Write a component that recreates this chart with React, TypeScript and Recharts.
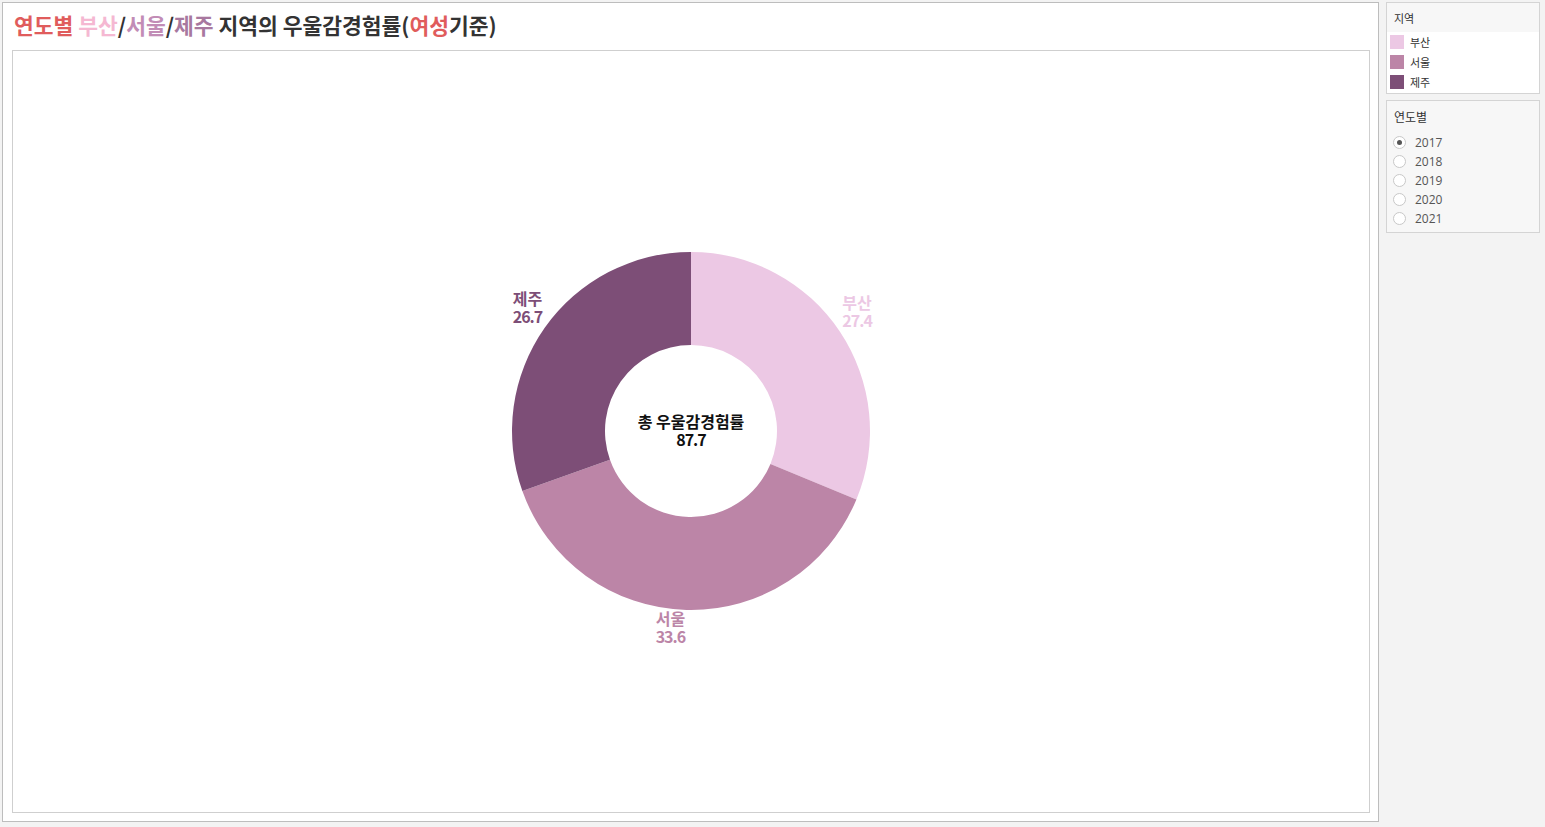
import { Cell, Pie, PieChart } from "recharts";

const regions = ["부산", "서울", "제주"];
const rates = [27.4, 33.6, 26.7];
const years = ["2017", "2018", "2019", "2020", "2021"];
const selectedYear = "2017";

const sliceColors = ["#ecc8e4", "#bc85a7", "#7d4e77"];
const titleColors = ["#f5b8d2", "#c28cb6", "#a8789f"];

const data = regions.map((name, i) => ({ name, value: rates[i] }));
const total = rates.reduce((a, b) => a + b, 0);

const RAD = Math.PI / 180;
const labelFont = "'Noto Sans CJK KR', sans-serif";

function renderLabel(props: any) {
  const { cx, cy, midAngle, outerRadius, name, value, index } = props;
  const r = outerRadius + 3;
  const cos = Math.cos(-midAngle * RAD);
  const sin = Math.sin(-midAngle * RAD);
  const x = cx + r * cos;
  const y = cy + r * sin;
  const anchor = cos > 0.3 ? "start" : cos < -0.3 ? "end" : "middle";
  const dx = anchor === "start" ? 0 : anchor === "end" ? 0 : -16;
  const top = sin < 0 ? y - 21 : y + 12;
  return (
    <text
      x={x + dx}
      y={top}
      textAnchor={anchor}
      fill={sliceColors[index]}
      fontFamily={labelFont}
      fontWeight={700}
      fontSize={16}
    >
      <tspan x={x + dx}>{name}</tspan>
      <tspan x={x + dx} dy={18} letterSpacing={-1}>
        {Number(value).toFixed(1)}
      </tspan>
    </text>
  );
}

export default function App() {
  return (
    <div
      style={{
        position: "fixed",
        left: 0,
        top: 0,
        width: 1545,
        height: 827,
        background: "#f3f3f3",
        fontFamily: "'Noto Sans CJK KR', sans-serif",
      }}
    >
      <div
        style={{
          position: "absolute",
          left: 2,
          top: 2,
          width: 1375,
          height: 818,
          background: "#fff",
          border: "1px solid #bdbdbd",
        }}
      />
      <div
        style={{
          position: "absolute",
          left: 14,
          top: 11,
          fontSize: 21.5,
          fontWeight: 700,
          color: "#333",
          whiteSpace: "nowrap",
          lineHeight: "28px",
        }}
      >
        <span style={{ color: "#e05c5c" }}>연도별</span>{" "}
        <span style={{ color: titleColors[0] }}>{regions[0]}</span>/
        <span style={{ color: titleColors[1] }}>{regions[1]}</span>/
        <span style={{ color: titleColors[2] }}>{regions[2]}</span> 지역의 우울감경험률(
        <span style={{ color: "#e05c5c" }}>여성</span>기준)
      </div>
      <div
        style={{
          position: "absolute",
          left: 12,
          top: 50,
          width: 1356,
          height: 761,
          border: "1px solid #cfcfcf",
          background: "#fff",
        }}
      >
        <PieChart width={1356} height={761} margin={{ top: 0, right: 0, bottom: 0, left: 0 }}>
          <Pie
            data={data}
            dataKey="value"
            nameKey="name"
            cx={678}
            cy={380}
            innerRadius={86}
            outerRadius={179}
            startAngle={90}
            endAngle={-270}
            stroke="none"
            label={renderLabel}
            labelLine={false}
            isAnimationActive={false}
          >
            {data.map((d, i) => (
              <Cell key={d.name} fill={sliceColors[i]} />
            ))}
          </Pie>
          <text
            x={678}
            y={377}
            textAnchor="middle"
            fontFamily={labelFont}
            fontWeight={700}
            fontSize={16}
            fill="#111"
          >
            <tspan x={678}>총 우울감경험률</tspan>
            <tspan x={678} dy={18} letterSpacing={-1}>
              {total.toFixed(1)}
            </tspan>
          </text>
        </PieChart>
      </div>

      <div
        style={{
          position: "absolute",
          left: 1386,
          top: 2,
          width: 152,
          height: 90,
          border: "1px solid #d4d4d4",
          background: "#fff",
          fontSize: 11,
          color: "#333",
        }}
      >
        <div style={{ background: "#f7f7f7", height: 29, padding: "7px 0 0 7px", boxSizing: "border-box" }}>지역</div>
        {regions.map((r, i) => (
          <div key={r} style={{ display: "flex", alignItems: "center", height: 20, paddingLeft: 3 }}>
            <div style={{ width: 14, height: 14, background: sliceColors[i], marginRight: 6 }} />
            <span>{r}</span>
          </div>
        ))}
      </div>

      <div
        style={{
          position: "absolute",
          left: 1386,
          top: 100,
          width: 152,
          height: 131,
          border: "1px solid #d4d4d4",
          background: "#f7f7f7",
          fontSize: 12,
          color: "#555",
        }}
      >
        <div style={{ padding: "7px 0 0 7px", height: 32, boxSizing: "border-box", color: "#333" }}>연도별</div>
        {years.map((y) => (
          <div key={y} style={{ display: "flex", alignItems: "center", height: 19, paddingLeft: 6 }}>
            <div
              style={{
                width: 11,
                height: 11,
                borderRadius: "50%",
                border: "1px solid #c8c8c8",
                background: "#fff",
                marginRight: 9,
                display: "flex",
                alignItems: "center",
                justifyContent: "center",
              }}
            >
              {y === selectedYear && (
                <div style={{ width: 5, height: 5, borderRadius: "50%", background: "#555" }} />
              )}
            </div>
            <span style={{ fontFamily: "'Open Sans', sans-serif" }}>{y}</span>
          </div>
        ))}
      </div>
    </div>
  );
}
